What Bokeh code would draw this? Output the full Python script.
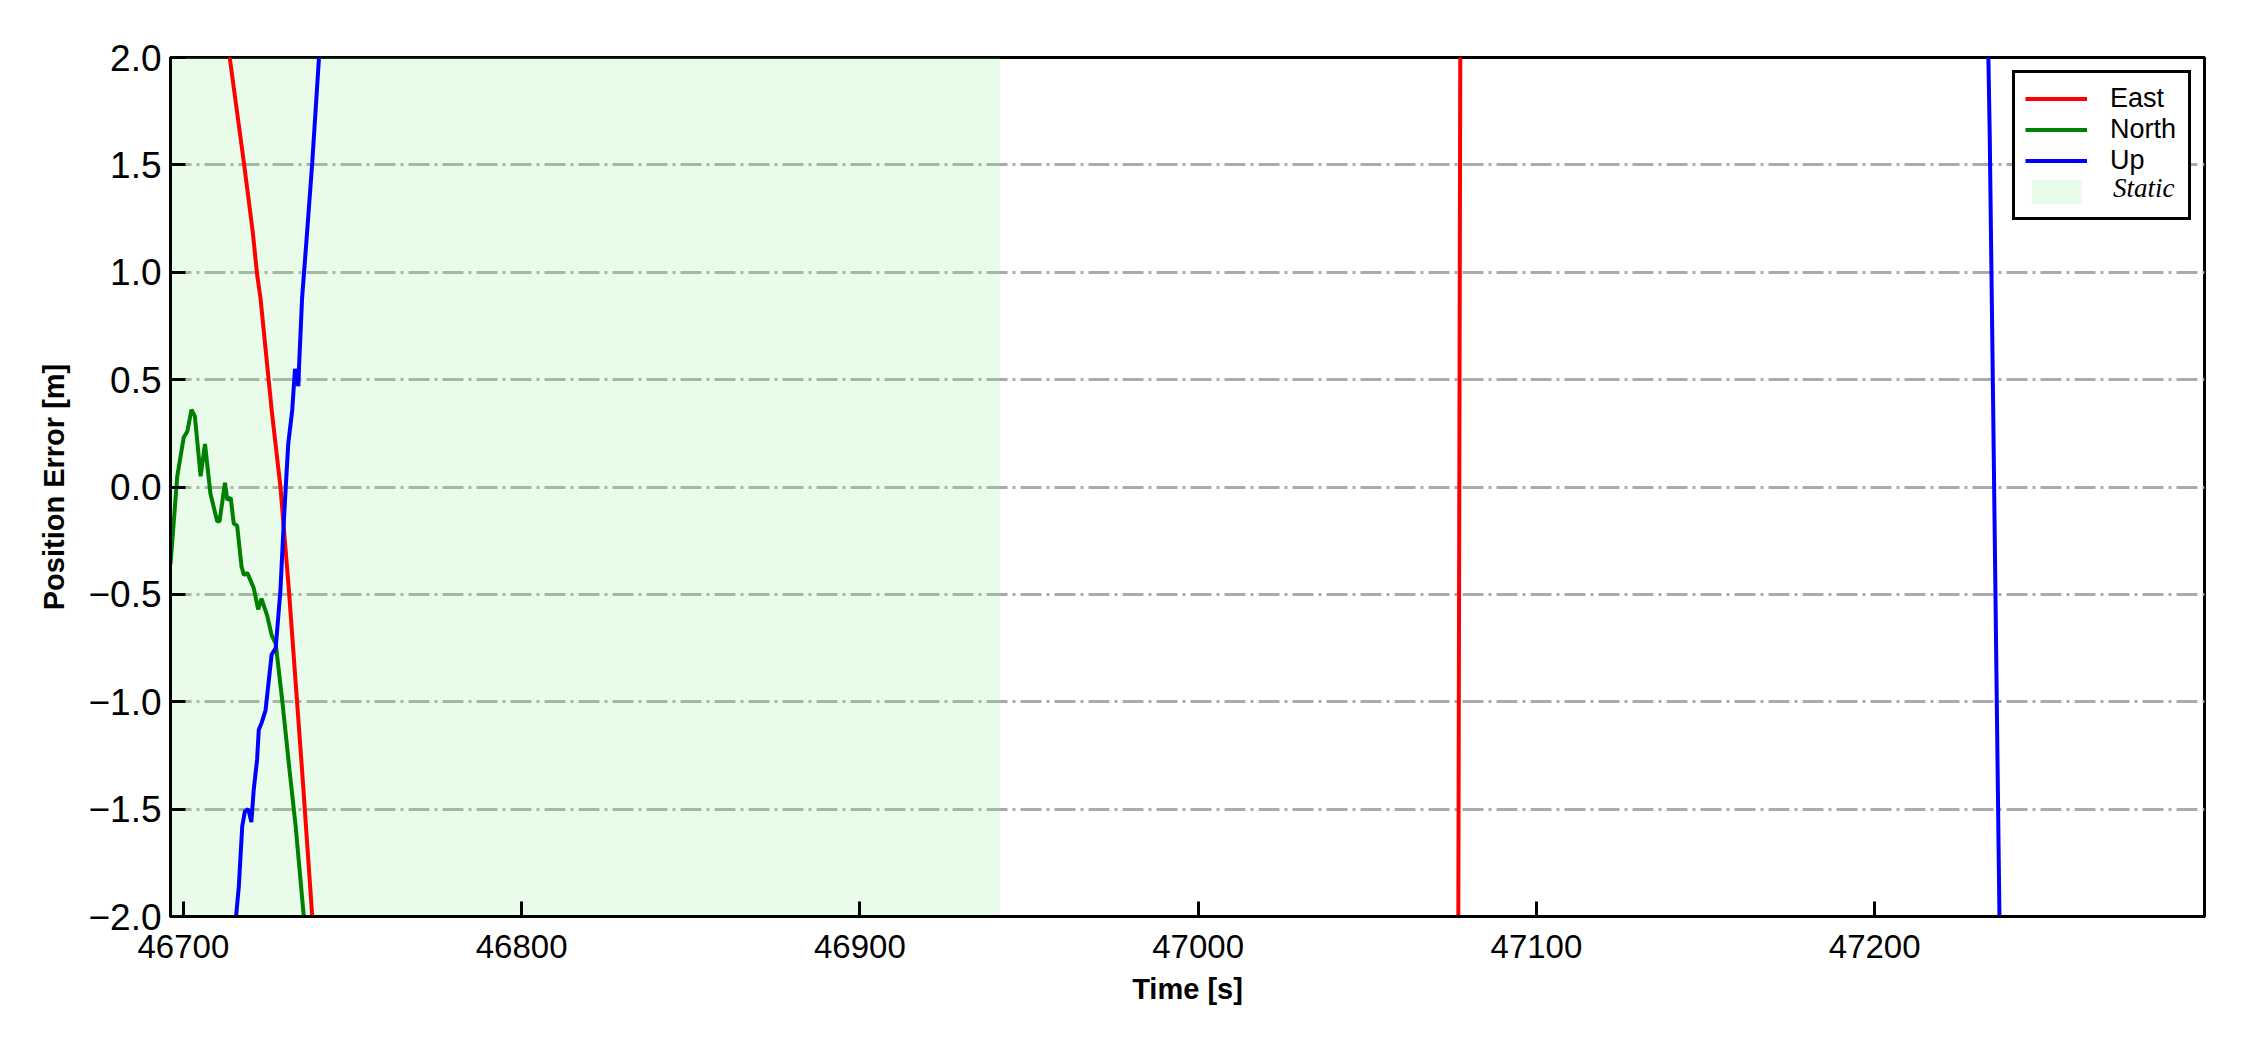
from bokeh.plotting import figure
from bokeh.models import Range1d, FixedTicker, Legend, LegendItem
from bokeh.embed import file_html
from bokeh.resources import INLINE

# ---------------- data ----------------
time_east = [46712.5, 46713.7, 46714.9, 46717.9, 46720.5, 46721.8, 46722.8, 46726.1,
             46728.7, 46731.2, 46735.1, 46738.1, 46739.0, 47076.8, 47077.6, 47297.5]
east = [2.10, 2.00, 1.86, 1.51, 1.19, 0.99, 0.88, 0.36,
        0.00, -0.48, -1.32, -2.00, -2.20, -2.80, 2.80, 3.00]

time_north = [46696.2, 46698.2, 46700.1, 46701.2, 46702.4, 46703.4, 46705.1, 46706.4,
              46708.0, 46710.0, 46710.7, 46712.3, 46713.0, 46714.0, 46714.9, 46715.9,
              46717.2, 46717.9, 46718.9, 46720.8, 46722.1, 46723.1, 46724.8, 46726.1,
              46727.3, 46729.2, 46731.4, 46733.2, 46735.6, 46736.6]
north = [-0.36, 0.05, 0.23, 0.26, 0.36, 0.33, 0.05, 0.20,
         -0.03, -0.16, -0.16, 0.02, -0.06, -0.05, -0.17, -0.18,
         -0.37, -0.41, -0.40, -0.47, -0.57, -0.52, -0.60, -0.69,
         -0.73, -0.99, -1.32, -1.58, -2.00, -2.40]

time_up = [46696.2, 46697.0, 46715.0, 46716.4, 46717.4, 46718.2, 46719.2, 46720.1,
           46720.8, 46721.8, 46722.3, 46723.1, 46724.3, 46726.1, 46727.3, 46728.7,
           46729.7, 46731.0, 46732.2, 46733.0, 46734.0, 46734.2, 46735.1, 46736.6,
           46738.1, 46740.1, 46741.0, 47233.0, 47234.0, 47235.0, 47236.0, 47237.0,
           47238.0, 47297.5]
up = [-2.00, -2.40, -2.10, -1.86, -1.58, -1.51, -1.50, -1.56,
      -1.41, -1.27, -1.13, -1.10, -1.04, -0.78, -0.75, -0.48,
      -0.16, 0.20, 0.36, 0.55, 0.47, 0.56, 0.88, 1.19,
      1.51, 2.00, 2.30, 2.55, 1.65, 0.40, -0.88, -2.15,
      -3.40, -3.50]

static_start = [46696.2]
static_end = [46941.5]
static_bottom = [-2.0]
static_top = [2.0]

x_limits = [46696.2, 47297.5]
y_limits = [-2.0, 2.0]

x_ticks = [46700, 46800, 46900, 47000, 47100, 47200]
x_tick_labels = ["46700", "46800", "46900", "47000", "47100", "47200"]
y_ticks = [-2.0, -1.5, -1.0, -0.5, 0.0, 0.5, 1.0, 1.5, 2.0]
y_tick_labels = ["\u22122.0", "\u22121.5", "\u22121.0", "\u22120.5", "0.0", "0.5", "1.0", "1.5", "2.0"]

series_names = ["East", "North", "Up"]
series_colors = ["#ff0000", "#008000", "#0000ff"]

# ---------------- figure ----------------
p = figure(frame_width=2034, frame_height=859,
           x_range=Range1d(x_limits[0], x_limits[1]),
           y_range=Range1d(y_limits[0], y_limits[1]),
           output_backend="svg", toolbar_location=None,
           min_border_left=170, min_border_top=57, min_border_right=30, min_border_bottom=118,
           background_fill_color="white", border_fill_color="white")

p.outline_line_color = "black"
p.outline_line_width = 3
p.outline_line_alpha = 1.0

r_static = p.quad(left=static_start, right=static_end, bottom=static_bottom, top=static_top,
                  fill_color="#90ee90", fill_alpha=0.2, line_alpha=0)

r_e = p.line(time_east, east, line_color=series_colors[0], line_width=4)
r_n = p.line(time_north, north, line_color=series_colors[1], line_width=4)
r_u = p.line(time_up, up, line_color=series_colors[2], line_width=4)

# axes
p.xaxis.ticker = FixedTicker(ticks=x_ticks)
p.xaxis.major_label_overrides = dict(zip(x_ticks, x_tick_labels))
p.yaxis.ticker = FixedTicker(ticks=y_ticks)
p.yaxis.major_label_overrides = dict(zip(y_ticks, y_tick_labels))
p.xaxis.axis_label = "Time [s]"
p.yaxis.axis_label = "Position Error [m]"

for ax in (p.xaxis, p.yaxis):
    ax.axis_line_color = "black"
    ax.axis_line_width = 3
    ax.major_tick_in = 15
    ax.major_tick_out = 0
    ax.major_tick_line_width = 3
    ax.major_tick_line_color = "black"
    ax.minor_tick_line_color = None
    ax.major_label_text_font = "Liberation Sans"
    ax.major_label_text_color = "black"
    ax.axis_label_text_font = "Liberation Sans"
    ax.axis_label_text_font_size = "29px"
    ax.axis_label_text_font_style = "bold"
    ax.axis_label_text_color = "black"

p.xaxis.major_label_text_font_size = "33px"
p.yaxis.major_label_text_font_size = "37px"
p.xaxis.major_label_standoff = 18
p.xaxis.axis_label_standoff = 12
p.yaxis.major_label_standoff = 9
p.yaxis.axis_label_standoff = 15

# grid
p.xgrid.visible = False
p.ygrid.ticker = FixedTicker(ticks=y_ticks)
p.ygrid.grid_line_color = "#aaaaaa"
p.ygrid.grid_line_width = 3
p.ygrid.grid_line_dash = "21 5 3 5"

# legends
legend_style = dict(location="top_right", margin=13, padding=10, spacing=0,
                    glyph_width=62, glyph_height=31, label_height=31, label_width=68,
                    label_standoff=23, label_text_font_size="27px",
                    label_text_align="left", label_text_color="black")

legend_a = Legend(items=[LegendItem(label=series_names[0], renderers=[r_e]),
                         LegendItem(label=series_names[1], renderers=[r_n]),
                         LegendItem(label=series_names[2], renderers=[r_u]),
                         LegendItem(label=" ", renderers=[r_static])],
                  label_text_font="Liberation Sans",
                  border_line_color="black", border_line_width=3, border_line_alpha=1.0,
                  background_fill_color="white", background_fill_alpha=1.0,
                  **legend_style)

dummy = p.line(x=[], y=[], line_alpha=0)
legend_b = Legend(items=[LegendItem(label=" ", renderers=[dummy]),
                         LegendItem(label=" ", renderers=[dummy]),
                         LegendItem(label=" ", renderers=[dummy]),
                         LegendItem(label="Static", renderers=[dummy])],
                  label_text_font="Liberation Serif", label_text_font_style="italic",
                  border_line_alpha=0, background_fill_alpha=0,
                  **legend_style)

p.add_layout(legend_a, "center")
p.add_layout(legend_b, "center")

open("out.html", "w").write(file_html(p, INLINE))
